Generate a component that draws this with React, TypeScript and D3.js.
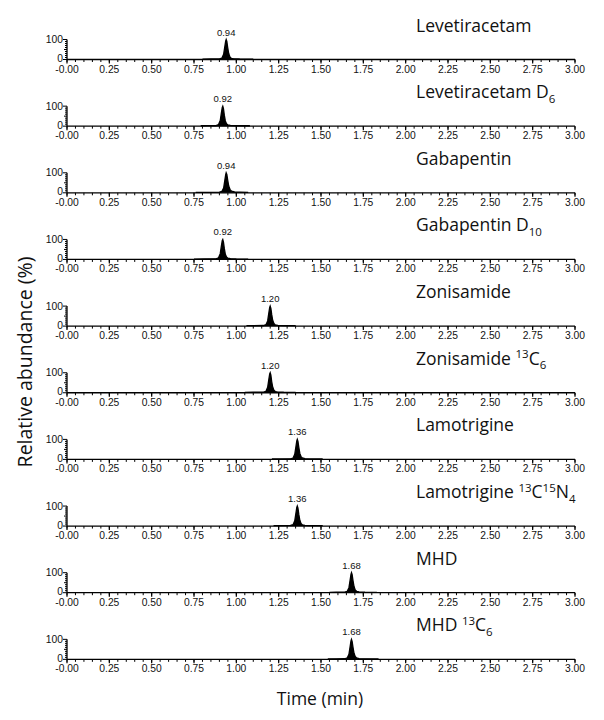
import React from "react";
import * as d3 from "d3";

type Seg = [string, "n" | "sub" | "sup"];

const titles: Seg[][] = [
  [["Levetiracetam", "n"]],
  [["Levetiracetam D", "n"], ["6", "sub"]],
  [["Gabapentin", "n"]],
  [["Gabapentin D", "n"], ["10", "sub"]],
  [["Zonisamide", "n"]],
  [["Zonisamide ", "n"], ["13", "sup"], ["C", "n"], ["6", "sub"]],
  [["Lamotrigine", "n"]],
  [["Lamotrigine ", "n"], ["13", "sup"], ["C", "n"], ["15", "sup"], ["N", "n"], ["4", "sub"]],
  [["MHD", "n"]],
  [["MHD ", "n"], ["13", "sup"], ["C", "n"], ["6", "sub"]],
];

const retentionTimes = [0.94, 0.92, 0.94, 0.92, 1.2, 1.2, 1.36, 1.36, 1.68, 1.68];

const times: number[][] = [
  [0.8, 0.85, 0.9, 0.915, 0.925, 0.932, 0.937, 0.94, 0.944, 0.949, 0.955, 0.962, 0.97, 0.985, 1.02, 1.1],
  [0.79, 0.83, 0.88, 0.895, 0.905, 0.912, 0.917, 0.92, 0.924, 0.929, 0.935, 0.942, 0.95, 0.965, 1.0, 1.08],
  [0.76, 0.82, 0.9, 0.915, 0.925, 0.932, 0.937, 0.94, 0.944, 0.949, 0.955, 0.963, 0.972, 0.99, 1.02, 1.07],
  [0.75, 0.81, 0.88, 0.895, 0.905, 0.912, 0.917, 0.92, 0.924, 0.929, 0.935, 0.942, 0.95, 0.965, 1.0, 1.07],
  [1.06, 1.1, 1.16, 1.175, 1.185, 1.192, 1.197, 1.2, 1.204, 1.209, 1.215, 1.222, 1.23, 1.245, 1.28, 1.35],
  [1.05, 1.1, 1.16, 1.175, 1.185, 1.192, 1.197, 1.2, 1.204, 1.209, 1.215, 1.222, 1.23, 1.245, 1.28, 1.35],
  [1.21, 1.26, 1.32, 1.335, 1.345, 1.352, 1.357, 1.36, 1.364, 1.369, 1.375, 1.382, 1.39, 1.405, 1.44, 1.51],
  [1.22, 1.26, 1.32, 1.335, 1.345, 1.352, 1.357, 1.36, 1.364, 1.369, 1.375, 1.382, 1.39, 1.405, 1.44, 1.51],
  [1.55, 1.59, 1.64, 1.655, 1.665, 1.672, 1.677, 1.68, 1.684, 1.689, 1.695, 1.702, 1.71, 1.725, 1.76, 1.83],
  [1.54, 1.59, 1.64, 1.655, 1.665, 1.672, 1.677, 1.68, 1.684, 1.689, 1.695, 1.702, 1.71, 1.725, 1.76, 1.84],
];

const intensities: number[][] = [
  [2, 2.5, 3, 7, 26, 64, 92, 100, 90, 60, 30, 13, 6, 3.5, 2.5, 2],
  [2, 2.5, 3, 8, 28, 68, 94, 100, 88, 55, 26, 12, 6, 3.5, 2.5, 2],
  [2, 2.5, 3, 7, 24, 62, 90, 100, 92, 64, 34, 16, 8, 4, 3, 2],
  [2, 2.5, 3, 8, 29, 69, 95, 100, 87, 55, 26, 12, 6, 3.5, 2.5, 2],
  [2, 2.5, 3, 7, 26, 66, 93, 100, 89, 57, 28, 13, 6, 3.5, 2.5, 2],
  [2, 2.5, 3, 7, 27, 67, 94, 100, 88, 55, 27, 12, 6, 3.5, 2.5, 2],
  [2, 2.5, 3, 7, 25, 64, 92, 100, 90, 60, 30, 14, 7, 3.5, 2.5, 2],
  [2, 2.5, 3, 7, 26, 65, 93, 100, 89, 58, 29, 13, 6, 3.5, 2.5, 2],
  [2, 2.5, 3, 7, 25, 63, 92, 100, 90, 61, 31, 14, 7, 3.5, 2.5, 2],
  [2, 2.5, 3, 7, 25, 64, 92, 100, 89, 60, 30, 14, 7, 3.5, 2.5, 2],
];

const xTickLabels = ["-0.00", "0.25", "0.50", "0.75", "1.00", "1.25", "1.50", "1.75", "2.00", "2.25", "2.50", "2.75", "3.00"];
const yTickLabels = ["0", "100"];

const W = 604;
const H = 720;
const X0 = 67;
const X1 = 575;
const BASE0 = 59.5;
const STEP = 66.65;
const PH = 20;
const tickFont = "Arial, 'Liberation Sans', sans-serif";
const titleFont = "'Open Sans', 'Noto Sans', sans-serif";
const TITLE_SIZE = 17.5;

function offsetOf(kind: string) {
  return kind === "sub" ? 4.5 : kind === "sup" ? -6.5 : 0;
}

export default function App() {
  const x = d3.scaleLinear().domain([0, 3]).range([X0, X1]);
  const majorTicks = d3.range(0, 13).map((i) => i * 0.25);
  const minorTicks = d3.range(0, 61).map((i) => i * 0.05);

  return (
    <svg
      width={W}
      height={H}
      style={{ position: "absolute", left: 0, top: 0, background: "#fff" }}
    >
      {titles.map((title, i) => {
        const base = BASE0 + i * STEP;
        const y = d3.scaleLinear().domain([0, 100]).range([base, base - PH]);
        const area = d3
          .area<number>()
          .x((_, k) => x(times[i][k]))
          .y0(y(0))
          .y1((v) => y(v))
          .curve(d3.curveLinear);
        const line = d3
          .line<number>()
          .x((_, k) => x(times[i][k]))
          .y((v) => y(v));
        const yMinor = d3.range(0, 101, 10);
        let prev = 0;
        return (
          <g key={i}>
            <text x={416} y={base - 28} fontFamily={titleFont} fontSize={TITLE_SIZE} fill="#111">
              {title.map(([t, kind], k) => {
                const off = offsetOf(kind);
                const dy = off - prev;
                prev = off;
                return (
                  <tspan key={k} fontSize={kind === "n" ? TITLE_SIZE : 11.5} dy={dy}>
                    {t}
                  </tspan>
                );
              })}
            </text>
            <path d={area(intensities[i]) || ""} fill="#000" />
            <path d={line(intensities[i]) || ""} fill="none" stroke="#000" strokeWidth={1.3} />
            <line x1={X0} x2={X1} y1={base} y2={base} stroke="#000" strokeWidth={1.3} />
            {minorTicks.map((t, k) => (
              <line key={"mi" + k} x1={x(t)} x2={x(t)} y1={base} y2={base + 2.5} stroke="#000" strokeWidth={1} />
            ))}
            {majorTicks.map((t, k) => (
              <line key={"ma" + k} x1={x(t)} x2={x(t)} y1={base} y2={base + 4} stroke="#000" strokeWidth={1.2} />
            ))}
            {majorTicks.map((t, k) => (
              <text
                key={"ml" + k}
                x={x(t)}
                y={base + 13}
                textAnchor="middle"
                fontFamily={tickFont}
                fontSize={10.3}
                fill="#111"
              >
                {xTickLabels[k]}
              </text>
            ))}
            <line x1={X0} x2={X0} y1={base} y2={y(100)} stroke="#000" strokeWidth={1.3} />
            {yMinor.map((v, k) => (
              <line
                key={"ym" + k}
                x1={X0}
                x2={X0 - (v === 0 || v === 100 ? 4 : v === 50 ? 3 : 2)}
                y1={y(v)}
                y2={y(v)}
                stroke="#000"
                strokeWidth={1}
              />
            ))}
            {[0, 100].map((v, k) => (
              <text
                key={"yl" + k}
                x={X0 - 4}
                y={y(v) + (v === 0 ? 2.5 : 3.5)}
                textAnchor="end"
                fontFamily={tickFont}
                fontSize={10.3}
                fill="#111"
              >
                {yTickLabels[k]}
              </text>
            ))}
            <text
              x={x(retentionTimes[i])}
              y={y(100) - 4}
              textAnchor="middle"
              fontFamily={tickFont}
              fontSize={9.5}
              fill="#111"
            >
              {retentionTimes[i].toFixed(2)}
            </text>
          </g>
        );
      })}
      <text
        transform={`translate(32,362) rotate(-90)`}
        textAnchor="middle"
        fontFamily={titleFont}
        fontSize={19.5}
        fill="#111"
      >
        Relative abundance (%)
      </text>
      <text x={320} y={705} textAnchor="middle" fontFamily={titleFont} fontSize={17.5} fill="#111">
        Time (min)
      </text>
    </svg>
  );
}
